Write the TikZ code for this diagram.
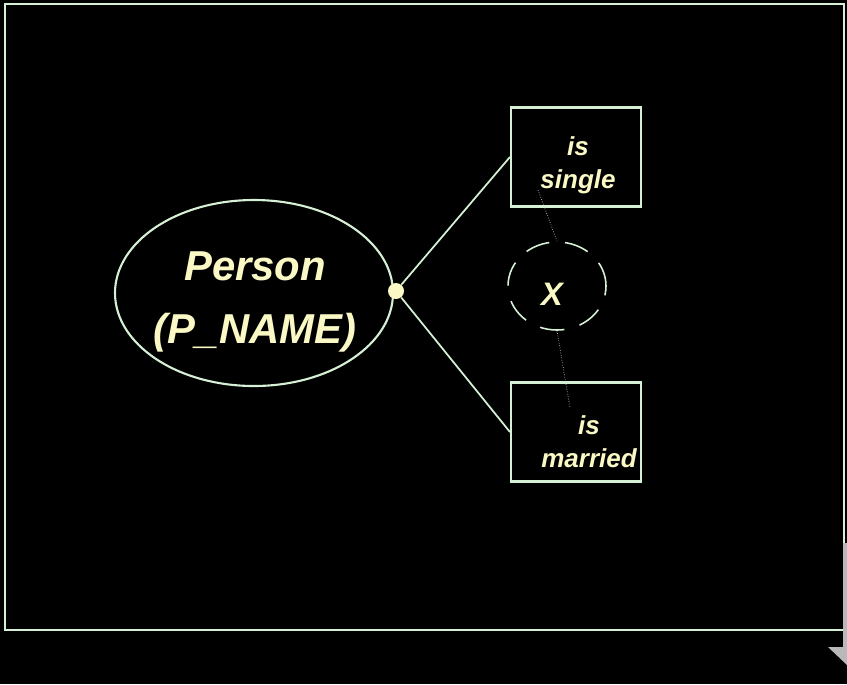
\documentclass[tikz,border=0pt]{standalone}
\usepackage{fontspec}
\setmainfont{Liberation Sans}
\definecolor{paleline}{RGB}{214,240,214}
\definecolor{paletext}{RGB}{250,248,196}
\begin{document}
\begin{tikzpicture}[
    x=0.02cm, y=-0.02cm,
    entity/.style={ellipse, draw=paleline, line width=1.2pt, minimum width=278*0.02cm, minimum height=186*0.02cm},
    state/.style={rectangle, draw=paleline, line width=1.2pt, minimum width=130*0.02cm, minimum height=99*0.02cm},
    label/.style={align=center, text=paletext, font=\fontsize{14.8}{18.7}\selectfont\bfseries\itshape},
    link/.style={draw=paleline, line width=1pt},
    faint/.style={draw=gray!45, densely dotted, line width=0.4pt}
]
\usetikzlibrary{shapes.geometric}

% page and frame
\fill[black] (0,0) rectangle (847,684);
\draw[paleline, line width=1.4pt] (5,4) rectangle (844,630);

\node[entity] (person) at (254,293) {};
\node[label, font=\fontsize{23.8}{35.7}\selectfont\bfseries\itshape] (persontext) at (255,302) {Person\\(P\_NAME)};

\node[state] (single) at (576,157) {};
\node[label] (singletext) at (578,165) {is\\single};
\node[state] (married) at (576,432) {};
\node[label] (marriedtext) at (589,442) {is\\married};

\node[ellipse, draw=paleline, dashed, dash pattern=on 14pt off 9pt, line width=0.9pt, minimum width=98*0.02cm, minimum height=88*0.02cm] (excl) at (557,286) {};
\node[label, font=\fontsize{18.5}{20}\selectfont\bfseries\itshape] (xlabel) at (552,294) {X};

\node[circle, fill=paletext, inner sep=0pt, minimum size=16*0.02cm] (joint) at (396,291) {};

% roles
\draw[link] (joint) -- (single.west);
\draw[link] (joint) -- (married.west);

% exclusion constraint
\coordinate (sinside) at (538,190);
\coordinate (minside) at (570,408);
\draw[faint] (sinside) -- (excl.north);
\draw[faint] (excl.south) -- (minside);

% page curl
\fill[gray!55] (843,543) rectangle (847,650);
\fill[gray!55] (828,647) -- (847,647) -- (847,665) -- cycle;

\end{tikzpicture}
\end{document}
